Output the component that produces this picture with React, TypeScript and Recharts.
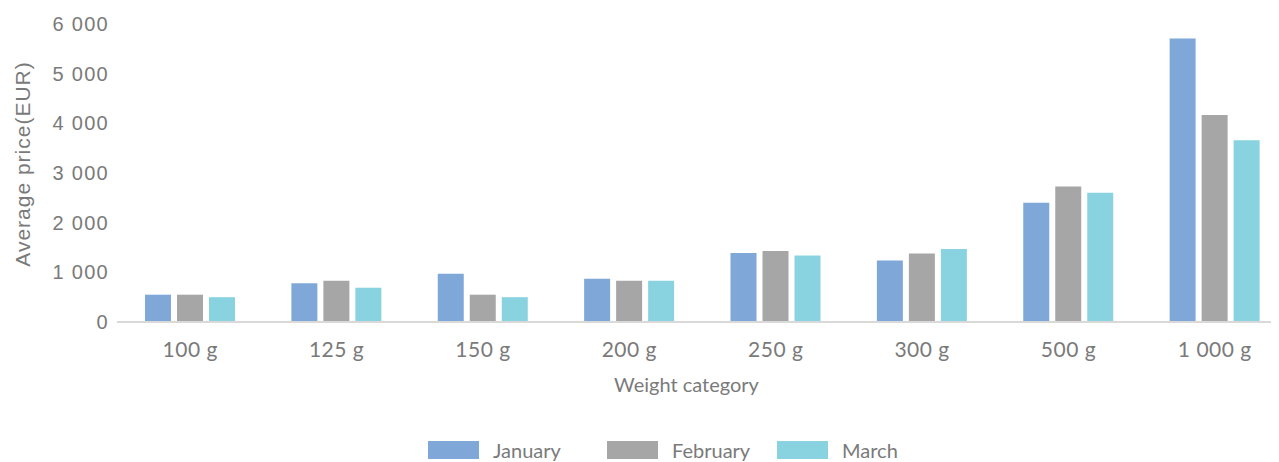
import React from "react";
import { BarChart, Bar, XAxis, YAxis, Legend } from "recharts";

const categories = ["100 g", "125 g", "150 g", "200 g", "250 g", "300 g", "500 g", "1 000 g"];
const january = [550, 780, 970, 870, 1390, 1240, 2400, 5710];
const february = [550, 830, 550, 830, 1430, 1380, 2730, 4170];
const march = [500, 690, 500, 830, 1340, 1470, 2600, 3660];
const yTicks = [0, 1000, 2000, 3000, 4000, 5000, 6000];

const series = [
  { key: "january", name: "January", color: "#7fa8d8" },
  { key: "february", name: "February", color: "#a6a6a6" },
  { key: "march", name: "March", color: "#89d3e1" },
];

const data = categories.map((weight, i) => ({
  weight,
  january: january[i],
  february: february[i],
  march: march[i],
}));

const textColor = "#7a7a7a";
const groupSep = (v: number) => String(v).replace(/\B(?=(\d{3})+(?!\d))/g, " ");

function YTitle(props: any) {
  const { viewBox } = props;
  const cx = 22;
  const cy = viewBox.y + viewBox.height / 2 - 9;
  return (
    <text
      x={cx}
      y={cy}
      transform={`rotate(-90 ${cx} ${cy})`}
      textAnchor="middle"
      dominantBaseline="central"
      fill={textColor}
      fontFamily="Liberation Sans, Arial, sans-serif"
      fontSize={21}
      letterSpacing={1}
    >
      Average price(EUR)
    </text>
  );
}

function XTitle(props: any) {
  const { viewBox } = props;
  return (
    <text
      x={viewBox.x + viewBox.width / 2 - 16}
      y={viewBox.y + 62}
      textAnchor="middle"
      dominantBaseline="central"
      fill={textColor}
      fontFamily="Lato, sans-serif"
      fontSize={20}
    >
      Weight category
    </text>
  );
}

// spacing between legend entries
const legendItemWidths = [179, 170, undefined];

function LegendBox() {
  return (
    <div style={{ display: "flex", alignItems: "center", fontFamily: "Lato, sans-serif", fontSize: 20, color: textColor, lineHeight: "20px" }}>
      {series.map((s, i) => (
        <div key={s.key} style={{ display: "flex", alignItems: "center", width: legendItemWidths[i] }}>
          <span style={{ width: 51, height: 18, background: s.color, display: "inline-block", marginRight: 14 }} />
          <span>{s.name}</span>
        </div>
      ))}
    </div>
  );
}

export default function App() {
  return (
    <div style={{ margin: "-8px -8px 0 -8px", width: 1279, height: 462, overflow: "hidden", background: "#fff" }}>
      <BarChart
        width={1290}
        height={462}
        data={data}
        margin={{ top: 24, right: 2, bottom: 0, left: 0 }}
        barSize={26}
        barGap={6}
      >
        <XAxis
          dataKey="weight"
          height={140}
          tickLine={false}
          tickMargin={14}
          axisLine={{ stroke: "#d9d9d9", strokeWidth: 2 }}
          tick={{ fill: textColor, fontSize: 21, fontFamily: "Lato, sans-serif", letterSpacing: 0.5 }}
          label={<XTitle />}
        />
        <YAxis
          width={117}
          domain={[0, 6000]}
          ticks={yTicks}
          tickFormatter={groupSep}
          axisLine={false}
          tickLine={false}
          tick={{ fill: textColor, fontSize: 20, fontFamily: "Liberation Sans, Arial, sans-serif", letterSpacing: 1.3 }}
          label={<YTitle />}
        />
        <Legend
          layout="horizontal"
          verticalAlign="middle"
          content={<LegendBox />}
          wrapperStyle={{ left: 428, top: 440, width: "auto" }}
        />
        {series.map((s) => (
          <Bar key={s.key} dataKey={s.key} name={s.name} fill={s.color} isAnimationActive={false} />
        ))}
      </BarChart>
    </div>
  );
}
